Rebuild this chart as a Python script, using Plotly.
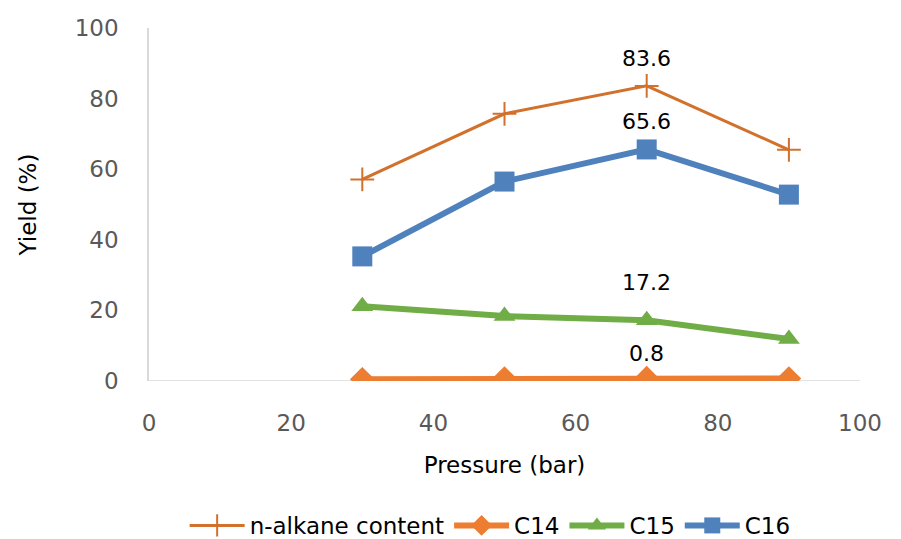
import plotly.graph_objects as go

pressure = [30, 50, 70, 90]
n_alkane = [57.1, 75.7, 83.6, 65.5]
c14 = [0.5, 0.7, 0.8, 0.7]
c15 = [21.2, 18.4, 17.2, 11.9]
c16 = [35.3, 56.5, 65.6, 52.8]
ticks = [0, 20, 40, 60, 80, 100]

label_idx = 2  # labels shown at 70 bar
FONT = "DejaVu Sans"

fig = go.Figure()
fig.add_trace(go.Scatter(x=pressure, y=n_alkane, name="n-alkane content", mode="lines+markers",
                         line=dict(color="#D2712C", width=3),
                         marker=dict(symbol="cross-thin", size=17, line=dict(color="#D2712C", width=2))))
fig.add_trace(go.Scatter(x=pressure, y=c14, name="C14", mode="lines+markers",
                         line=dict(color="#ED7D31", width=6),
                         marker=dict(symbol="diamond", size=19, color="#ED7D31")))
fig.add_trace(go.Scatter(x=pressure, y=c15, name="C15", mode="lines+markers",
                         line=dict(color="#70AD47", width=6),
                         marker=dict(symbol="triangle-up", size=19, color="#70AD47")))
fig.add_trace(go.Scatter(x=pressure, y=c16, name="C16", mode="lines+markers",
                         line=dict(color="#4F81BD", width=6),
                         marker=dict(symbol="square", size=20, color="#4F81BD")))

for series, shift in [(n_alkane, 27), (c16, 28), (c15, 38), (c14, 25)]:
    v = series[label_idx]
    fig.add_annotation(x=pressure[label_idx], y=v, text=f"{v:.1f}", showarrow=False,
                       yshift=shift, font=dict(size=22, color="#000000", family=FONT))

fig.update_layout(
    width=901, height=539,
    margin=dict(l=149, r=41, t=28, b=158, autoexpand=False),
    paper_bgcolor="white", plot_bgcolor="white",
    font=dict(family=FONT, size=23, color="#595959"),
    showlegend=True,
    legend=dict(orientation="h", xref="container", x=0.544, xanchor="center",
                yref="container", y=0.065, yanchor="top",
                font=dict(size=23, color="#000000", family=FONT), itemwidth=55, tracegroupgap=0),
    xaxis=dict(range=[0, 100], tickvals=ticks, showgrid=False, zeroline=False, automargin=False,
               showline=False, ticks="", ticklabelstandoff=26,
               tickfont=dict(size=23, color="#595959"),
               title=dict(text="Pressure (bar)", font=dict(size=23, color="#000000"), standoff=21)),
    yaxis=dict(range=[0, 100], tickvals=ticks, showgrid=False, zeroline=False, automargin=False,
               showline=True, linecolor="#D9D9D9", linewidth=1.5, ticks="",
               ticklabelstandoff=24,
               tickfont=dict(size=23, color="#595959"),
               title=dict(text="Yield (%)", font=dict(size=23, color="#000000"), standoff=32)),
)
fig.add_shape(type="line", xref="paper", yref="y", x0=0, x1=1, y0=0, y1=0,
              line=dict(color="#D9D9D9", width=1.5), layer="below")

fig.write_html("out.html", config={"displayModeBar": False},
               post_script="document.body.style.margin='0';")
